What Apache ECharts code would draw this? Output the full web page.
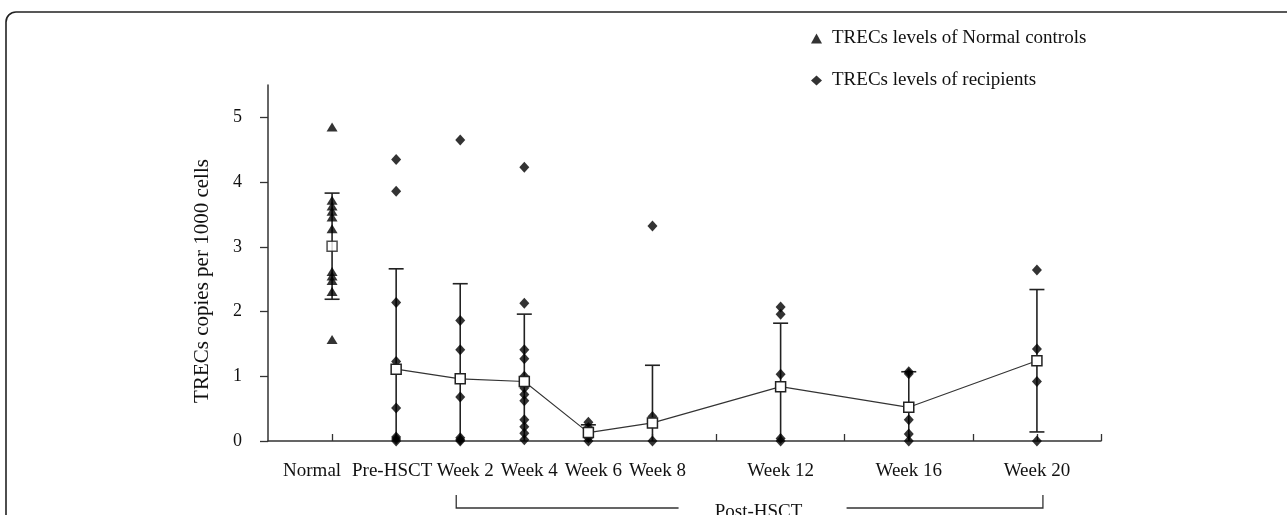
<!DOCTYPE html>
<html>
<head>
<meta charset="utf-8">
<script src="https://cdn.jsdelivr.net/npm/echarts@6/dist/echarts.min.js"></script>
<style>
html,body{margin:0;padding:0;background:#fff;}
#c{width:1287px;height:515px;}
</style>
</head>
<body>
<div id="c"></div>
<script>
// ---- data ----
const xPositions = [1, 2, 3, 4, 5, 6, 8, 10, 12];
const xLabels = ['Normal', 'Pre-HSCT', 'Week 2', 'Week 4', 'Week 6', 'Week 8', 'Week 12', 'Week 16', 'Week 20'];
const yTicks = [0, 1, 2, 3, 4, 5];

const normalControls = [4.85, 3.72, 3.63, 3.55, 3.46, 3.28, 2.62, 2.55, 2.48, 2.31, 1.57];
const normalMean = 3.01;
const normalSD = 0.82;

const recipPre = [4.35, 3.86, 2.14, 1.23, 0.51, 0.06, 0.03, 0];
const recipW2 = [4.65, 1.86, 1.41, 0.68, 0.05, 0.02, 0];
const recipW4 = [4.23, 2.13, 1.41, 1.27, 1.0, 0.82, 0.72, 0.62, 0.33, 0.22, 0.12, 0.02];
const recipW6 = [0.29, 0.21, 0.05, 0];
const recipW8 = [3.32, 0.38, 0];
const recipW12 = [2.07, 1.96, 1.03, 0.04, 0];
const recipW16 = [1.07, 1.04, 0.33, 0.11, 0];
const recipW20 = [2.64, 1.42, 0.92, 0];
const recipGroups = [recipPre, recipW2, recipW4, recipW6, recipW8, recipW12, recipW16, recipW20];

const recipMeans = [1.11, 0.96, 0.92, 0.13, 0.28, 0.84, 0.52, 1.24];
const recipSD = [1.55, 1.47, 1.04, 0.12, 0.89, 0.98, 0.55, 1.10];

// ---- build ----
const FONT = '"Liberation Serif", "DejaVu Serif", serif';
const TXT = '#111';
const recipX = xPositions.slice(1);

const normalData = normalControls.map(v => [xPositions[0], v]);
const recipData = [];
recipGroups.forEach((g, i) => g.forEach(v => recipData.push([recipX[i], v])));
const recipMeanData = recipMeans.map((m, i) => [recipX[i], m]);
const errData = [[xPositions[0], normalMean - normalSD, normalMean + normalSD]]
  .concat(recipMeans.map((m, i) => [recipX[i], m - recipSD[i], m + recipSD[i]]));

const chart = echarts.init(document.getElementById('c'), null, {renderer: 'canvas'});

function renderErr(params, api) {
  const x = api.value(0), lo = api.value(1), hi = api.value(2);
  const pHi = api.coord([x, hi]);
  const pLo = api.coord([x, Math.max(lo, 0)]);
  const cap = 7.5;
  const st = {stroke: '#222', lineWidth: 1.6};
  const children = [
    {type: 'line', shape: {x1: pHi[0], y1: pHi[1], x2: pLo[0], y2: pLo[1]}, style: st},
    {type: 'line', shape: {x1: pHi[0] - cap, y1: pHi[1], x2: pHi[0] + cap, y2: pHi[1]}, style: st}
  ];
  if (lo > 0.02) {
    children.push({type: 'line', shape: {x1: pLo[0] - cap, y1: pLo[1], x2: pLo[0] + cap, y2: pLo[1]}, style: st});
  }
  return {type: 'group', children: children};
}

const option = {
  backgroundColor: '#fff',
  animation: false,
  grid: {left: 268, right: 186, top: 85, bottom: 74},
  legend: {
    orient: 'vertical', left: 806, top: 24, itemGap: 23,
    itemWidth: 11, itemHeight: 10,
    data: ['TRECs levels of Normal controls', 'TRECs levels of recipients'],
    textStyle: {fontFamily: FONT, fontSize: 19, color: TXT, padding: [0, 0, 0, 5]}
  },
  xAxis: {
    type: 'value', min: 0, max: 13, interval: 1,
    splitLine: {show: false},
    axisLine: {show: true, onZero: false, lineStyle: {color: '#333', width: 1.5}},
    axisTick: {show: true, inside: true, length: 7, lineStyle: {color: '#333', width: 1.3},
      customValues: [1, 2, 3, 4, 5, 6, 7, 8, 9, 10, 11, 12, 13]},
    axisLabel: {
      show: true, margin: 21, customValues: xPositions,
      fontFamily: FONT, fontSize: 19, color: TXT,
      formatter: function (v) {
        const i = xPositions.indexOf(v);
        if (i < 0) return '';
        if (i === 0) return '{n|' + xLabels[i] + '}';
        if (i === 1) return '{p|' + xLabels[i] + '}';
        if (i >= 2 && i <= 5) return '{w|' + xLabels[i] + '}';
        return xLabels[i];
      },
      rich: {
        n: {fontFamily: FONT, fontSize: 19, color: TXT, padding: [0, 40, 0, 0]},
        p: {fontFamily: FONT, fontSize: 19, color: TXT, padding: [0, 8, 0, 0]},
        w: {fontFamily: FONT, fontSize: 19, color: TXT, padding: [0, 0, 0, 10]}
      }
    }
  },
  yAxis: {
    type: 'value', min: 0, max: 5.5, interval: 1,
    name: 'TRECs copies per 1000 cells', nameLocation: 'middle', nameGap: 55,
    nameTextStyle: {fontFamily: FONT, fontSize: 21, color: TXT, padding: [0, 36, 0, 0]},
    splitLine: {show: false},
    axisLine: {show: true, lineStyle: {color: '#333', width: 1.5}},
    axisTick: {show: true, length: 8, lineStyle: {color: '#333', width: 1.3}, customValues: yTicks},
    axisLabel: {show: true, margin: 26, customValues: yTicks, fontFamily: FONT, fontSize: 18, color: TXT}
  },
  series: [
    {
      type: 'custom', name: 'err', renderItem: renderErr, data: errData, z: 2,
      encode: {x: 0, y: [1, 2]}, silent: true
    },
    {
      type: 'scatter', name: 'TRECs levels of Normal controls', data: normalData,
      symbol: 'triangle', symbolSize: [11, 9], itemStyle: {color: '#000'}, z: 3
    },
    {
      type: 'scatter', name: 'TRECs levels of recipients', data: recipData,
      symbol: 'diamond', symbolSize: [10, 11], itemStyle: {color: '#000'}, z: 3
    },
    {
      type: 'line', name: 'recipMean', data: recipMeanData, symbol: 'rect', symbolSize: 10,
      showSymbol: true, lineStyle: {color: '#333', width: 1.1},
      itemStyle: {color: '#fff', borderColor: '#222', borderWidth: 1.5}, z: 4
    },
    {
      type: 'scatter', name: 'normalMean', data: [[xPositions[0], normalMean]], symbol: 'rect', symbolSize: 10,
      itemStyle: {color: '#fff', borderColor: '#222', borderWidth: 1.5}, z: 4
    }
  ]
};
chart.setOption(option);

// Post-HSCT bracket and outer frame (annotations)
const pL = chart.convertToPixel({gridIndex: 0}, [xPositions[2], 0]);
const pR = chart.convertToPixel({gridIndex: 0}, [xPositions[8], 0]);
const bx1 = pL[0] - 4, bx2 = pR[0] + 6, by = 508, byTop = 495;
const mid = (bx1 + bx2) / 2 + 9;
chart.setOption({
  graphic: [
    {type: 'rect', shape: {x: 6, y: 12, width: 1320, height: 600, r: 10},
      style: {fill: 'none', stroke: '#222', lineWidth: 1.6}, silent: true},
    {type: 'polyline', shape: {points: [[bx1, byTop], [bx1, by], [mid - 80, by]]},
      style: {fill: 'none', stroke: '#333', lineWidth: 1.3}, silent: true},
    {type: 'polyline', shape: {points: [[mid + 88, by], [bx2, by], [bx2, byTop]]},
      style: {fill: 'none', stroke: '#333', lineWidth: 1.3}, silent: true},
    {type: 'text', x: mid, y: 512, style: {text: 'Post-HSCT', fontFamily: FONT, fontSize: 19, fill: TXT,
      textAlign: 'center', textVerticalAlign: 'middle'}, silent: true}
  ]
});
</script>
</body>
</html>
